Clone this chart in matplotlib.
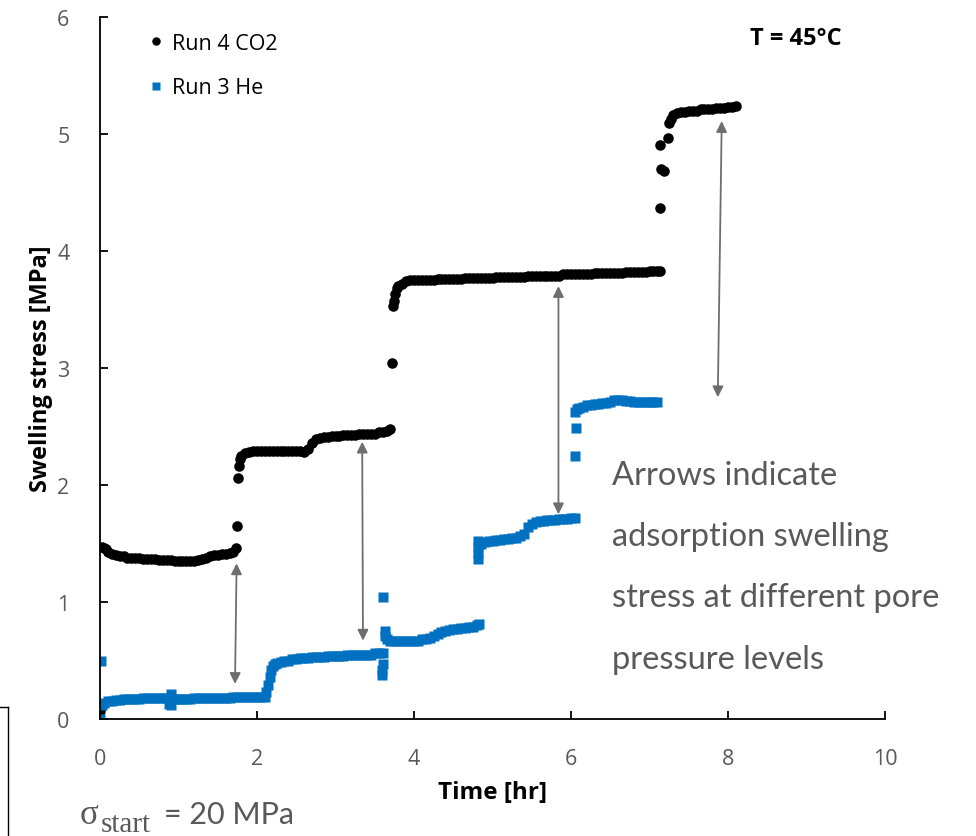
import matplotlib
matplotlib.use("Agg")
import matplotlib.pyplot as plt
from matplotlib.lines import Line2D

# Run 4 CO2 (black dots), time in hr, stress in MPa
co2_time = [
    0.00,
    0.03, 0.05, 0.08, 0.10, 0.15, 0.20, 0.25, 0.30, 0.35, 0.40,
    0.45, 0.50, 0.55, 0.60, 0.65, 0.70, 0.75, 0.80, 0.85, 0.90,
    0.95, 1.00, 1.05, 1.10, 1.15, 1.20, 1.25, 1.30, 1.35, 1.40,
    1.45, 1.50, 1.55, 1.60, 1.65, 1.70, 1.73,
    1.75, 1.76, 1.77, 1.78,
    1.80, 1.85, 1.90, 1.95, 2.00, 2.05, 2.10, 2.15, 2.20, 2.25,
    2.30, 2.35, 2.40, 2.45, 2.50, 2.55, 2.60, 2.65, 2.70, 2.75,
    2.80, 2.85, 2.90, 2.95, 3.00, 3.05, 3.10, 3.15, 3.20, 3.25,
    3.30, 3.35, 3.40, 3.45, 3.50, 3.55, 3.60, 3.65, 3.70,
    3.72, 3.73, 3.74, 3.76, 3.78, 3.80, 3.85, 3.90, 3.95,
    4.00, 4.05, 4.10, 4.15, 4.20, 4.25, 4.30, 4.35, 4.40, 4.45,
    4.50, 4.55, 4.60, 4.65, 4.70, 4.75, 4.80, 4.85, 4.90, 4.95,
    5.00, 5.05, 5.10, 5.15, 5.20, 5.25, 5.30, 5.35, 5.40, 5.45,
    5.50, 5.55, 5.60, 5.65, 5.70, 5.75, 5.80, 5.85, 5.90, 5.95,
    6.00, 6.05, 6.10, 6.15, 6.20, 6.25, 6.30, 6.35, 6.40, 6.45,
    6.50, 6.55, 6.60, 6.65, 6.70, 6.75, 6.80, 6.85, 6.90, 6.95,
    7.00, 7.05, 7.10, 7.13,
    7.14, 7.15, 7.18, 7.14, 7.24,
    7.25, 7.27, 7.30, 7.35, 7.40, 7.45, 7.50, 7.55, 7.60, 7.65,
    7.70, 7.75, 7.80, 7.85, 7.90, 7.95, 8.00, 8.05, 8.10,
]
co2_stress = [
    0.07,
    1.47, 1.46, 1.45, 1.43, 1.41, 1.40, 1.39, 1.39, 1.38, 1.38,
    1.38, 1.38, 1.37, 1.37, 1.37, 1.37, 1.36, 1.36, 1.36, 1.36,
    1.35, 1.35, 1.35, 1.35, 1.35, 1.35, 1.36, 1.37, 1.38, 1.39,
    1.40, 1.40, 1.41, 1.41, 1.42, 1.43, 1.46,
    1.65, 2.06, 2.16, 2.22,
    2.25, 2.27, 2.28, 2.29, 2.29, 2.29, 2.29, 2.29, 2.29, 2.29,
    2.29, 2.29, 2.29, 2.29, 2.29, 2.29, 2.28, 2.31, 2.36, 2.39,
    2.40, 2.41, 2.41, 2.42, 2.42, 2.42, 2.43, 2.43, 2.43, 2.43,
    2.44, 2.44, 2.44, 2.44, 2.44, 2.45, 2.45, 2.46, 2.48,
    3.04, 3.53, 3.57, 3.63, 3.68, 3.70, 3.72, 3.74, 3.75,
    3.75, 3.75, 3.75, 3.75, 3.75, 3.75, 3.76, 3.76, 3.76, 3.76,
    3.76, 3.76, 3.76, 3.77, 3.77, 3.77, 3.77, 3.77, 3.77, 3.77,
    3.77, 3.78, 3.78, 3.78, 3.78, 3.78, 3.78, 3.78, 3.78, 3.79,
    3.79, 3.79, 3.79, 3.79, 3.79, 3.79, 3.79, 3.79, 3.80, 3.80,
    3.80, 3.80, 3.80, 3.80, 3.80, 3.80, 3.81, 3.81, 3.81, 3.81,
    3.81, 3.81, 3.81, 3.81, 3.82, 3.82, 3.82, 3.82, 3.82, 3.82,
    3.83, 3.83, 3.83, 3.83,
    4.37, 4.70, 4.68, 4.91, 4.97,
    5.09, 5.13, 5.16, 5.18, 5.19, 5.19, 5.20, 5.20, 5.20, 5.21,
    5.21, 5.21, 5.21, 5.22, 5.22, 5.22, 5.23, 5.23, 5.24,
]

# Run 3 He (blue squares)
he_time = [
    0.00, 0.01,
    0.02, 0.05,
    0.10, 0.15, 0.20, 0.25, 0.30, 0.35, 0.40, 0.45, 0.50, 0.55,
    0.60, 0.65, 0.70, 0.75, 0.80, 0.85, 0.90, 0.95, 1.00, 1.05,
    1.10, 1.15, 1.20, 1.25, 1.30, 1.35, 1.40, 1.45, 1.50, 1.55,
    1.60, 1.65, 1.70, 1.75, 1.80, 1.85, 1.90, 1.95, 2.00, 2.05,
    2.10,
    0.88, 0.90, 0.90,
    2.12, 2.14, 2.16, 2.18, 2.20, 2.23,
    2.25, 2.30, 2.35, 2.40, 2.45, 2.50, 2.55, 2.60, 2.65, 2.70,
    2.75, 2.80, 2.85, 2.90, 2.95, 3.00, 3.05, 3.10, 3.15, 3.20,
    3.25, 3.30, 3.35, 3.40, 3.45, 3.50, 3.55, 3.60,
    3.60, 3.59, 3.59, 3.61, 3.63, 3.63,
    3.65, 3.70, 3.75, 3.80, 3.85, 3.90, 3.95, 4.00, 4.05, 4.10, 4.15,
    4.20, 4.25, 4.30, 4.35, 4.40, 4.45, 4.50, 4.55, 4.60, 4.65,
    4.70, 4.75, 4.80, 4.83,
    4.81, 4.81, 4.82, 4.82,
    4.85, 4.90, 4.95, 5.00, 5.05, 5.10, 5.15, 5.20, 5.25, 5.30,
    5.35, 5.40, 5.45, 5.50, 5.55, 5.60, 5.65, 5.70, 5.75, 5.80,
    5.85, 5.90, 5.95, 6.00, 6.05,
    6.05, 6.06, 6.05,
    6.08, 6.10, 6.15, 6.20, 6.25, 6.30, 6.35, 6.40, 6.45, 6.50,
    6.55, 6.60, 6.65, 6.70, 6.75, 6.80, 6.85, 6.90, 6.95, 7.00,
    7.05, 7.10,
]
he_stress = [
    0.00, 0.50,
    0.12, 0.14,
    0.15, 0.15, 0.16, 0.16, 0.17, 0.17, 0.17, 0.17, 0.17, 0.18,
    0.18, 0.18, 0.18, 0.18, 0.18, 0.18, 0.18, 0.17, 0.17, 0.17,
    0.17, 0.17, 0.18, 0.18, 0.18, 0.18, 0.18, 0.18, 0.18, 0.18,
    0.18, 0.18, 0.19, 0.19, 0.19, 0.19, 0.19, 0.19, 0.19, 0.19,
    0.19,
    0.13, 0.12, 0.21,
    0.23, 0.29, 0.36, 0.42, 0.45, 0.47,
    0.48, 0.49, 0.50, 0.50, 0.51, 0.51, 0.52, 0.52, 0.52, 0.53,
    0.53, 0.53, 0.53, 0.54, 0.54, 0.54, 0.54, 0.54, 0.55, 0.55,
    0.55, 0.55, 0.55, 0.55, 0.55, 0.56, 0.56, 0.56,
    0.47, 0.42, 0.38, 1.04, 0.75, 0.71,
    0.68, 0.67, 0.67, 0.67, 0.67, 0.67, 0.67, 0.67, 0.67, 0.68, 0.68,
    0.69, 0.71, 0.73, 0.74, 0.75, 0.76, 0.77, 0.77, 0.78, 0.78,
    0.79, 0.79, 0.80, 0.81,
    1.37, 1.42, 1.47, 1.52,
    1.50, 1.51, 1.52, 1.52, 1.53, 1.53, 1.54, 1.54, 1.55, 1.55,
    1.56, 1.58, 1.64, 1.67, 1.68, 1.69, 1.69, 1.70, 1.70, 1.70,
    1.71, 1.71, 1.71, 1.72, 1.72,
    2.25, 2.49, 2.62,
    2.65, 2.66, 2.67, 2.68, 2.68, 2.69, 2.69, 2.70, 2.70, 2.71,
    2.73, 2.73, 2.73, 2.72, 2.72, 2.71, 2.71, 2.71, 2.71, 2.71,
    2.71, 2.71,
]

# double arrows: (x bottom, y bottom, x top, y top)
arrows = [
    (1.72, 0.30, 1.74, 1.33),
    (3.35, 0.67, 3.34, 2.37),
    (5.84, 1.75, 5.84, 3.70),
    (7.87, 2.75, 7.92, 5.11),
]

note_lines = [
    "Arrows indicate",
    "adsorption swelling",
    "stress at different pore",
    "pressure levels",
]

blue = "#0070C0"
grey = "#595959"

fig = plt.figure(figsize=(9.76, 8.37), dpi=100)
ax = fig.add_axes([100 / 976, 117 / 837, 785 / 976, 702 / 837])

ax.plot(co2_time, co2_stress, "o", color="black", ms=7.6, mec="none",
        label="Run 4 CO2")
ax.plot(he_time, he_stress, "s", color=blue, ms=6.8, mec="none",
        label="Run 3 He")

for x0, y0, x1, y1 in arrows:
    ax.annotate("", xy=(x1, y1), xytext=(x0, y0),
                arrowprops=dict(arrowstyle="<|-|>", color="#6e6e6e",
                                lw=1.3, mutation_scale=16,
                                shrinkA=0, shrinkB=0))

ax.set_xlim(0, 10)
ax.set_ylim(0, 6)
ax.set_xticks([0, 2, 4, 6, 8, 10])
ax.set_yticks([0, 1, 2, 3, 4, 5, 6])
for s in ["top", "right"]:
    ax.spines[s].set_visible(False)
for s in ["left", "bottom"]:
    ax.spines[s].set_linewidth(1.3)
ax.tick_params(direction="in", length=6, width=1.3, colors="black",
               labelcolor=grey, labelsize=15.5, labelfontfamily="Open Sans")
ax.tick_params(axis="x", pad=21)
ax.tick_params(axis="y", pad=22)

ax.set_xlabel("Time [hr]", fontsize=17.5, fontweight="bold",
              family="Open Sans", labelpad=8)
ax.set_ylabel("Swelling stress [MPa]", fontsize=17, fontweight="bold",
              family="Open Sans", labelpad=3)

leg = ax.legend(loc="upper left", bbox_to_anchor=(0.05, 0.993),
                frameon=False, handlelength=0.6, handletextpad=0.4,
                labelspacing=1.1, borderpad=0, markerscale=0.8,
                prop={"family": "Open Sans", "size": 15.5})

ax.text(8.28, 5.82, "T = 45°C", fontsize=17, fontweight="bold",
        family="Open Sans", va="center", ha="left")

base_y = [2.01, 1.49, 0.97, 0.44]
for line, yb in zip(note_lines, base_y):
    ax.text(6.52, yb, line, fontsize=23.5, family="Lato", color=grey,
            va="baseline", ha="left")

# sigma start label under the axes
yb = 1 - 824 / 837
fig.text(80 / 976, yb, "σ", fontsize=25, family="Liberation Serif",
         color=grey, va="baseline", ha="left")
fig.text(101 / 976, yb - 8 / 837, "start", fontsize=21,
         family="Liberation Serif", color=grey, va="baseline", ha="left")
fig.text(164 / 976, yb, "= 20 MPa", fontsize=22, family="Lato",
         color=grey, va="baseline", ha="left")

# edge of a neighbouring box at the lower left
fig.add_artist(Line2D([0, 8 / 976], [1 - 708 / 837, 1 - 708 / 837],
                      transform=fig.transFigure, color="black", lw=1))
fig.add_artist(Line2D([8 / 976, 8 / 976], [0, 1 - 708 / 837],
                      transform=fig.transFigure, color="black", lw=1))

fig.savefig("out.png", dpi=100)
